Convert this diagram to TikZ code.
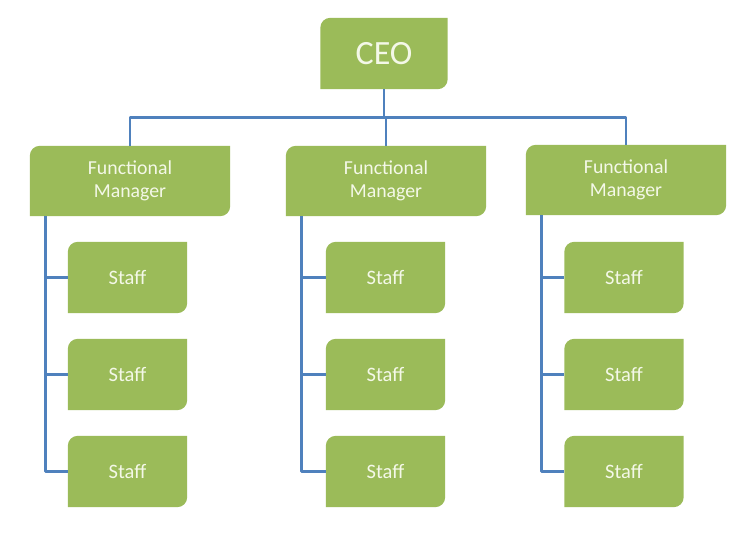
\documentclass[tikz,border=0pt]{standalone}
\usepackage{fontspec}
\setmainfont{Carlito}
\usetikzlibrary{backgrounds,calc}
\definecolor{boxgreen}{HTML}{9BBB59}
\definecolor{lineblue}{HTML}{4F81BD}
\definecolor{boxtext}{HTML}{F4F8E8}
\tikzset{
  orgbox/.style={inner sep=0pt, text=boxtext, align=center, font=\fontsize{19.8}{23}\selectfont},
  ceobox/.style={orgbox, minimum width=127pt, minimum height=71pt, font=\fontsize{34}{38}\selectfont},
  mgrbox/.style={orgbox, minimum width=200pt, minimum height=70pt},
  staffbox/.style={orgbox, minimum width=119pt, minimum height=71pt, font=\fontsize{20.5}{24}\selectfont},
  link/.style={draw=lineblue, line width=2.8pt, line join=round}
}
\begin{document}
\begin{tikzpicture}[x=1pt,y=1pt]
\useasboundingbox (0,0) rectangle (750,-538);
\node[ceobox] (ceo) at (384,-53.5) {CEO};
\node[mgrbox] (m1) at (130,-181) {Functional\\Manager};
\node[mgrbox] (m2) at (386,-181) {Functional\\Manager};
\node[mgrbox] (m3) at (626,-180) {Functional\\Manager};
\foreach \c/\x in {1/127.5,2/385.5,3/624} {
  \node[staffbox] (s\c1) at (\x,-277.5) {Staff};
  \node[staffbox] (s\c2) at (\x,-374.5) {Staff};
  \node[staffbox] (s\c3) at (\x,-471.5) {Staff};
}
\begin{scope}[on background layer]
\foreach \n in {ceo,m1,m2,m3,s11,s12,s13,s21,s22,s23,s31,s32,s33} {
  \fill[boxgreen] ($(\n.north west)+(0,-10)$) arc[start angle=180,end angle=90,radius=10]
    -- (\n.north east) -- ($(\n.south east)+(0,10)$)
    arc[start angle=0,end angle=-90,radius=10] -- (\n.south west) -- cycle;
}
\end{scope}
\coordinate (bus) at ($(ceo.south)+(0,-28)$);
\draw[link] (ceo.south) -- (bus);
\draw[link] (m1.north) |- (bus) -| (m3.north);
\draw[link] (bus) -- (bus -| m2.north) -- (m2.north);
\foreach \c in {1,2,3} {
  \coordinate (t\c) at ($(m\c.south west)+(15.5,0)$);
  \draw[link] (t\c) |- (s\c3.west);
  \draw[link] (t\c) |- (s\c1.west);
  \draw[link] (t\c) |- (s\c2.west);
}
\end{tikzpicture}
\end{document}
